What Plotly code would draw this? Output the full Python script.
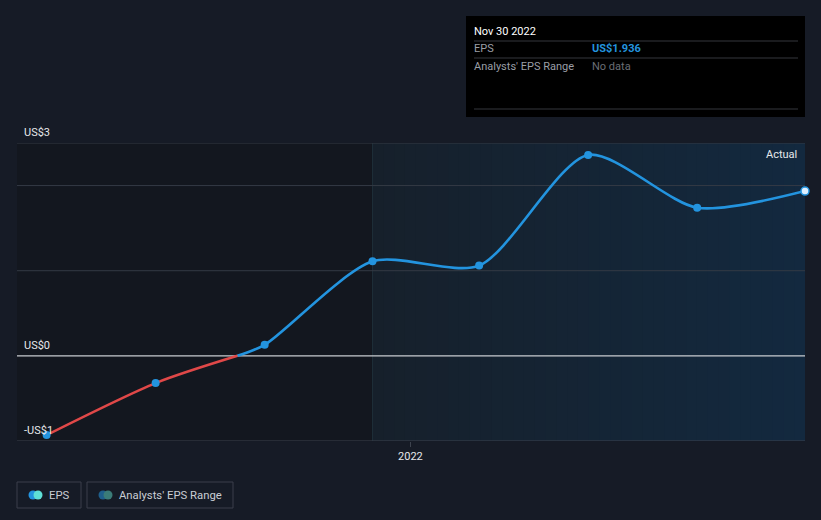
import plotly.graph_objects as go
import pandas as pd

# ---- data ----
dates = ["2021-02-28", "2021-05-31", "2021-08-31", "2021-11-30",
         "2022-02-28", "2022-05-31", "2022-08-31", "2022-11-30"]
eps = [-0.93, -0.32, 0.13, 1.11, 1.06, 2.36, 1.74, 1.936]
# point where the curve meets zero
cross_date = "2021-08-08"
cross_eps = 0.0
x_range = ["2021-02-03", "2022-11-30"]
y_range = [-1.0, 2.5]
grid_values = [1, 2]
y_labels = [("US$3", 2.5), ("US$0", 0), ("-US$1", -1)]
x_tick_vals = ["2022-01-01"]
x_tick_text = ["2022"]
actual_start = "2021-11-30"

BG = "#161b26"
BLUE = "#2394df"
RED = "#e04848"
W, H = 821, 520
L, R, T, B = 17, 16, 143, 79
PW, PH = W - L - R, H - T - B
SM = 0.75


def px(x):
    return (x - L) / PW


def py(y):
    return (H - B - y) / PH


neg_x = [d for d, v in zip(dates, eps) if v < 0] + [cross_date]
neg_y = [v for v in eps if v < 0] + [cross_eps]
pos_x = [cross_date] + [d for d, v in zip(dates, eps) if v >= 0]
pos_y = [cross_eps] + [v for v in eps if v >= 0]

fig = go.Figure()

fig.add_trace(go.Scatter(
    x=pos_x, y=pos_y, mode="lines",
    line=dict(color=BLUE, width=2.6, shape="spline", smoothing=SM),
    hoverinfo="skip", showlegend=False))
fig.add_trace(go.Scatter(
    x=neg_x, y=neg_y, mode="lines",
    line=dict(color=RED, width=2.6, shape="spline", smoothing=SM),
    hoverinfo="skip", showlegend=False))
fig.add_trace(go.Scatter(
    x=dates[:-1], y=eps[:-1], mode="markers",
    marker=dict(color=BLUE, size=8), hoverinfo="skip", showlegend=False))
fig.add_trace(go.Scatter(
    x=dates[-1:], y=eps[-1:], mode="markers",
    marker=dict(color="#dff0ff", size=8, line=dict(color=BLUE, width=1.5)),
    hoverinfo="skip", showlegend=False, cliponaxis=False))

shapes = []
# darker past region
shapes.append(dict(type="rect", xref="x", yref="y", x0=x_range[0], x1=actual_start,
                   y0=y_range[0], y1=y_range[1], fillcolor="#13171f", line_width=0,
                   layer="below"))
# shaded "actual" region, horizontal gradient approximated with overlapping bands
c0 = (0x16, 0x20, 0x2b)
c1 = (0x13, 0x29, 0x3f)
t0 = pd.Timestamp(actual_start)
t1 = pd.Timestamp(x_range[1])
nb = 40
for i in range(nb):
    f = (i + 0.5) / nb
    col = "rgb(%d,%d,%d)" % tuple(round(a + (b - a) * f) for a, b in zip(c0, c1))
    xa = t0 + (t1 - t0) * (i / nb)
    shapes.append(dict(type="rect", xref="x", yref="y", x0=xa, x1=t1,
                       y0=y_range[0], y1=y_range[1], fillcolor=col,
                       line_width=0, layer="below"))
shapes.append(dict(type="line", xref="x", yref="y", x0=actual_start, x1=actual_start,
                   y0=y_range[0], y1=y_range[1], line=dict(color="#1e2e38", width=1),
                   layer="below"))
for g in grid_values + [y_range[1]]:
    shapes.append(dict(type="line", xref="x", yref="y", x0=x_range[0], x1=x_range[1],
                       y0=g, y1=g, line=dict(color="#343a45", width=1), layer="below"))
shapes.append(dict(type="line", xref="x", yref="y", x0=x_range[0], x1=x_range[1],
                   y0=0, y1=0, line=dict(color="#c9ccd1", width=1.2), layer="below"))
shapes.append(dict(type="line", xref="x", yref="y", x0=x_range[0], x1=x_range[1],
                   y0=y_range[0], y1=y_range[0],
                   line=dict(color="#3d434e", width=1), layer="below"))

annotations = []
for txt, v in y_labels:
    annotations.append(dict(xref="paper", yref="y", x=px(22), y=v, text=txt,
                            showarrow=False, xanchor="left", yanchor="bottom", yshift=2,
                            font=dict(color="#e6e8eb", size=11, family="Roboto")))
annotations.append(dict(xref="paper", yref="paper", x=px(799), y=py(154), text="Actual",
                        showarrow=False, xanchor="right", yanchor="middle",
                        font=dict(color="#e6e8eb", size=11, family="Roboto")))

# tooltip box
shapes.append(dict(type="rect", xref="paper", yref="paper", x0=px(466), x1=px(805),
                   y0=py(117), y1=py(16), fillcolor="#000000", line_width=0))
for yy in (41, 58, 109):
    shapes.append(dict(type="line", xref="paper", yref="paper", x0=px(474), x1=px(798),
                       y0=py(yy), y1=py(yy), line=dict(color="#34373d", width=1)))
tt = [("Nov 30 2022", 472, 31, "#ffffff"),
      ("EPS", 472, 49, "#9a9ea6"),
      ("<b>US$1.936</b>", 590, 49, BLUE),
      ("Analysts' EPS Range", 472, 66, "#9a9ea6"),
      ("No data", 590, 66, "#6a6e75")]
for txt, x, y, c in tt:
    annotations.append(dict(xref="paper", yref="paper", x=px(x), y=py(y), text=txt,
                            showarrow=False, xanchor="left", yanchor="middle",
                            font=dict(color=c, size=11, family="Roboto")))

# legend
for x0, x1 in ((17, 81), (87, 233)):
    shapes.append(dict(type="rect", xref="paper", yref="paper", x0=px(x0), x1=px(x1),
                       y0=py(508), y1=py(482), line=dict(color="#3a3f4a", width=1),
                       fillcolor="rgba(0,0,0,0)"))
for cx, col in ((33, BLUE), (38, "#5fe0d6"), (103, "#1f5f8c"), (108, "#3b7c78")):
    shapes.append(dict(type="circle", xref="paper", yref="paper",
                       x0=px(cx - 4.5), x1=px(cx + 4.5), y0=py(499.5), y1=py(490.5),
                       fillcolor=col, line_width=0))
annotations.append(dict(xref="paper", yref="paper", x=px(47), y=py(495), text="EPS",
                        showarrow=False, xanchor="left", yanchor="middle",
                        font=dict(color="#c9cdd4", size=11.3, family="Roboto")))
annotations.append(dict(xref="paper", yref="paper", x=px(117), y=py(495),
                        text="Analysts' EPS Range", showarrow=False, xanchor="left",
                        yanchor="middle", font=dict(color="#c9cdd4", size=11.3, family="Roboto")))

fig.update_layout(
    width=W, height=H, paper_bgcolor=BG, plot_bgcolor=BG,
    margin=dict(l=L, r=R, t=T, b=B), showlegend=False,
    shapes=shapes, annotations=annotations,
    xaxis=dict(range=x_range, type="date", tickvals=x_tick_vals, ticktext=x_tick_text,
               showgrid=False, zeroline=False, showline=False, ticks="outside",
               ticklen=5, tickcolor="#3d434e",
               tickfont=dict(color="#e6e8eb", size=11, family="Roboto")),
    yaxis=dict(range=y_range, showgrid=False, zeroline=False, showticklabels=False,
               showline=False),
    font=dict(family="Roboto"),
)

fig.write_html("out.html", config={"displayModeBar": False},
               post_script="document.body.style.margin='0';")
